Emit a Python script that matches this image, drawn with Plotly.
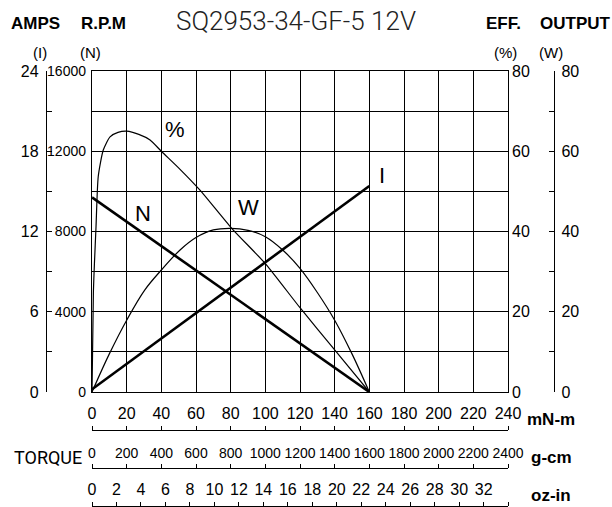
import plotly.graph_objects as go

# ---------------- data ----------------
torque_lin = [0, 160]                 # mN-m
speed_rpm = [9700, 0]                 # N (rpm)
current_a = [0.2, 15.4]               # I (A)

eff_torque = [0, 0.8, 1.4, 2.3, 3.6, 6.5, 10.4, 15, 20, 27, 33.5, 40, 50.8, 62.3, 80.6, 100, 120, 140, 160]
eff_pct = [0, 25, 32, 41, 53.7, 60.3, 63.6, 64.7, 65.0, 64.2, 62.8, 60.0, 55.5, 50.3, 40.8, 32.0, 21.0, 10.5, 0]

out_torque = [0, 10, 20, 30.4, 40, 50.8, 60, 70, 80, 90, 100, 110, 120, 130, 140, 150, 160]
out_watt = [0, 9.5, 17.9, 25.4, 30.4, 35.4, 38.5, 40.4, 40.8, 40.3, 38.7, 35.4, 30.8, 24.8, 17.9, 9.5, 0]

mnm_ticks = list(range(0, 241, 20))
gcm_ticks = list(range(0, 2401, 200))
ozin_ticks = list(range(0, 33, 2))
ozin_max = 33.99
rpm_ticks = list(range(0, 16001, 2000))
rpm_labels = ["0", "", "4000", "", "8000", "", "12000", "", "16000"]
amp_ticks = list(range(0, 25, 3))
amp_labels = ["0", "", "6", "", "12", "", "18", "", "24"]
eff_ticks = [0, 20, 40, 60, 80]
watt_ticks = list(range(0, 81, 10))
watt_labels = ["0", "", "20", "", "40", "", "60", "", "80"]

# ---------------- geometry helpers ----------------
PL, PR, PT, PB = 10, 602, 71, 506
def fx(px):
    return (px - PL) / (PR - PL)
def fy(py):
    return (PB - py) / (PB - PT)

NARROW = "Liberation Sans Narrow, Liberation Sans, Arial, sans-serif"
TICKFONT = dict(family=NARROW, size=16, color="black")
HEADFONT = dict(family="Liberation Sans, Arial, sans-serif", size=17, color="black", weight="bold")
GRIDW = 1.4

fig = go.Figure()

fig.add_trace(go.Scatter(x=torque_lin, y=speed_rpm, mode="lines", line=dict(color="black", width=2.6),
                         xaxis="x", yaxis="y", hoverinfo="skip", showlegend=False))
fig.add_trace(go.Scatter(x=torque_lin, y=current_a, mode="lines", line=dict(color="black", width=2.6),
                         xaxis="x", yaxis="y2", hoverinfo="skip", showlegend=False))
fig.add_trace(go.Scatter(x=eff_torque, y=eff_pct, mode="lines", line=dict(color="black", width=1.2, shape="spline", smoothing=0.6),
                         xaxis="x", yaxis="y3", hoverinfo="skip", showlegend=False))
fig.add_trace(go.Scatter(x=out_torque, y=out_watt, mode="lines", line=dict(color="black", width=1.2, shape="spline", smoothing=1),
                         xaxis="x", yaxis="y4", hoverinfo="skip", showlegend=False))
for ax in ["x2", "x3", "x4"]:
    fig.add_trace(go.Scatter(x=[], y=[], xaxis=ax, yaxis="y", showlegend=False, hoverinfo="skip"))

dom_x = [fx(92), fx(508)]
dom_y = [fy(392), 1]

common_line = dict(linecolor="black", linewidth=GRIDW, zeroline=False)

fig.update_layout(
    width=612, height=507,
    margin=dict(l=PL, r=612 - PR, t=PT, b=507 - PB, pad=0, autoexpand=False),
    paper_bgcolor="white", plot_bgcolor="white",
    showlegend=False,
    xaxis=dict(domain=dom_x, range=[0, 240], tickvals=mnm_ticks, showticklabels=False, ticks="",
               showgrid=True, gridcolor="black", gridwidth=GRIDW, showline=True, mirror=True, **common_line),
    yaxis=dict(domain=dom_y, range=[0, 16000], tickvals=rpm_ticks, ticktext=rpm_labels, ticks="",
               showgrid=True, gridcolor="black", gridwidth=GRIDW, showline=True, mirror=True,
               tickfont=dict(TICKFONT, size=14), ticklabelstandoff=2, **common_line),
    yaxis2=dict(overlaying="y", anchor="free", position=fx(46), side="left", range=[0, 24],
                tickvals=amp_ticks, ticktext=amp_labels, ticks="inside", ticklen=5, tickwidth=1.3,
                tickcolor="black", showline=True, showgrid=False, tickfont=TICKFONT, ticklabelstandoff=4,
                **common_line),
    yaxis3=dict(overlaying="y", anchor="x", side="right", range=[0, 80], tickvals=eff_ticks, ticks="",
                showline=False, showgrid=False, zeroline=False, tickfont=TICKFONT, ticklabelstandoff=3),
    yaxis4=dict(overlaying="y", anchor="free", position=fx(554), side="right", range=[0, 80],
                tickvals=watt_ticks, ticktext=watt_labels, ticks="inside", ticklen=5, tickwidth=1.3,
                tickcolor="black", showline=True, showgrid=False, tickfont=TICKFONT, ticklabelstandoff=3,
                **common_line),
    xaxis2=dict(overlaying="x", anchor="free", position=fy(430), side="top", range=[0, 240],
                tickvals=mnm_ticks, ticks="outside", ticklen=4, tickwidth=1.3, tickcolor="black", tickangle=0,
                showline=True, showgrid=False, tickfont=TICKFONT, **common_line),
    xaxis3=dict(overlaying="x", anchor="free", position=fy(468), side="top", range=[0, 2400],
                tickvals=gcm_ticks, ticks="outside", ticklen=4, tickwidth=1.3, tickcolor="black", tickangle=0,
                showline=True, showgrid=False, tickfont=dict(TICKFONT, size=14), **common_line),
    xaxis4=dict(overlaying="x", anchor="free", position=fy(506), side="top", range=[0, ozin_max],
                tickvals=ozin_ticks + [ozin_max], ticktext=[str(v) for v in ozin_ticks] + [""],
                ticks="outside", ticklen=4, tickwidth=1.3, tickcolor="black", tickangle=0,
                showline=True, showgrid=False, tickfont=TICKFONT, **common_line),
)

def ann(text, px, py, font, xanchor="center"):
    fig.add_annotation(text=text, x=fx(px), y=fy(py), xref="paper", yref="paper",
                       showarrow=False, font=font, xanchor=xanchor, yanchor="middle")

ann("AMPS", 35, 23, HEADFONT)
ann("R.P.M", 103.5, 23, HEADFONT)
ann("SQ2953-34-GF-5 12V", 295.5, 21, dict(family="Roboto, Liberation Sans, sans-serif", size=26, color="#222", weight=300))
ann("EFF.", 503.5, 23, HEADFONT)
ann("OUTPUT", 575, 23, HEADFONT)
ann("(I)", 40, 53, dict(TICKFONT, size=15))
ann("(N)", 90, 53, dict(TICKFONT, size=15))
ann("(%)", 505, 53, dict(TICKFONT, size=15))
ann("(W)", 551, 53, dict(TICKFONT, size=15))
ann("mN-m", 551, 419, HEADFONT)
ann("TORQUE", 48, 457, dict(family="Roboto, Liberation Sans, sans-serif", size=18, color="black"))
ann("g-cm", 551, 457, HEADFONT)
ann("oz-in", 551, 495, HEADFONT)

# curve labels (data coordinates)
LBLFONT = dict(family="Liberation Sans, Arial, sans-serif", size=22, color="black")
fig.add_annotation(text="%", x=47.9, y=65.3, xref="x", yref="y3", showarrow=False, font=LBLFONT)
fig.add_annotation(text="N", x=29.4, y=8922, xref="x", yref="y", showarrow=False, font=LBLFONT)
fig.add_annotation(text="W", x=90, y=46.1, xref="x", yref="y4", showarrow=False, font=LBLFONT)
fig.add_annotation(text="I", x=167.3, y=16.15, xref="x", yref="y2", showarrow=False, font=LBLFONT)

fig.write_html("out.html", config={"displayModeBar": False},
               post_script="document.body.style.margin='0';document.body.style.padding='0';")
